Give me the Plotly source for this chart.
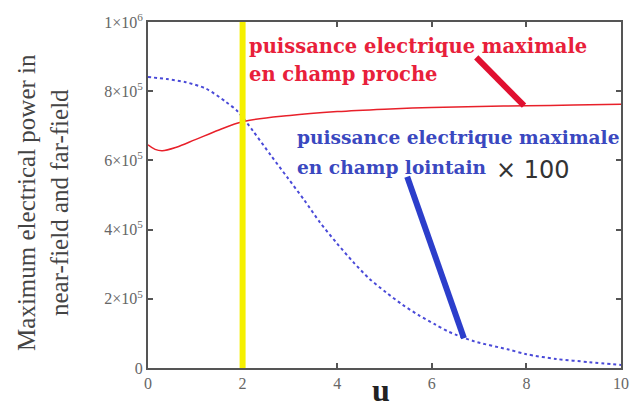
import plotly.graph_objects as go

# near-field maximal power (red)
near_u = [0, 0.15, 0.3, 0.6, 1.0, 1.5, 2.0, 3.0, 4.0, 5.0, 6.0, 7.0, 8.0, 9.0, 10.0]
near_p = [645e3, 632e3, 628e3, 638e3, 660e3, 688e3, 712e3, 730e3, 741e3, 748e3, 753e3, 756e3, 758e3, 760e3, 762e3]

# far-field maximal power x100 (blue dotted)
far_u = [0, 0.4, 0.8, 1.23, 1.64, 1.9, 2.22, 2.6, 2.95, 3.3, 3.64, 3.99, 4.34, 4.68, 5.03, 5.38,
         5.72, 6.07, 6.34, 6.49, 6.9, 7.6, 8.0, 8.63, 9.33, 10.0]
far_p = [841e3, 835e3, 826e3, 807e3, 770e3, 741e3, 685e3, 614e3, 550e3, 486e3, 420e3, 361e3, 306e3,
         258e3, 219e3, 183e3, 153e3, 126e3, 106e3, 97e3, 77e3, 54e3, 40e3, 26e3, 17e3, 9e3]

x_ticks = [0, 2, 4, 6, 8, 10]
y_ticks = [0, 2e5, 4e5, 6e5, 8e5, 1e6]
y_tick_text = ["0", "2×10<sup>5</sup>", "4×10<sup>5</sup>", "6×10<sup>5</sup>", "8×10<sup>5</sup>", "1×10<sup>6</sup>"]

marker_u = 2

fig = go.Figure()
fig.add_trace(go.Scatter(x=far_u, y=far_p, mode="lines", line=dict(color="#4a4ad8", width=2, dash="dot", shape="spline", smoothing=0.8),
                         showlegend=False))
fig.add_trace(go.Scatter(x=near_u, y=near_p, mode="lines", line=dict(color="#e8202a", width=1.5, shape="spline"),
                         showlegend=False))

fig.add_shape(type="line", x0=marker_u, x1=marker_u, y0=0, y1=1, yref="paper", xref="x",
              line=dict(color="#f5f000", width=6))

# annotation pointer lines
fig.add_shape(type="line", xref="x", yref="y", x0=6.94, y0=898e3, x1=7.95, y1=758e3,
              line=dict(color="#e01030", width=6))
fig.add_shape(type="line", xref="x", yref="y", x0=5.48, y0=553e3, x1=6.68, y1=86e3,
              line=dict(color="#2c3ecb", width=6))

ann_font_r = dict(family="DejaVu Serif", size=19.5, color="#e8203a")
ann_font_b = dict(family="DejaVu Serif", size=18.6, color="#3a48c0")
fig.add_annotation(x=2.1, y=929e3, xref="x", yref="y", text="<b>puissance electrique maximale</b>",
                   showarrow=False, xanchor="left", yanchor="middle", font=ann_font_r)
fig.add_annotation(x=2.1, y=849e3, xref="x", yref="y", text="<b>en champ proche</b>",
                   showarrow=False, xanchor="left", yanchor="middle", font=ann_font_r)
fig.add_annotation(x=3.1, y=665e3, xref="x", yref="y", text="<b>puissance electrique maximale</b>",
                   showarrow=False, xanchor="left", yanchor="middle", font=ann_font_b)
fig.add_annotation(x=3.1, y=580e3, xref="x", yref="y", text="<b>en champ lointain</b>",
                   showarrow=False, xanchor="left", yanchor="middle", font=ann_font_b)
fig.add_annotation(x=7.32, y=572e3, xref="x", yref="y", text="× 100",
                   showarrow=False, xanchor="left", yanchor="middle",
                   font=dict(family="DejaVu Sans", size=24, color="#333333"))

axis_common = dict(showgrid=False, zeroline=False, showline=True, linecolor="#555555", linewidth=2,
                   mirror="ticks", ticks="inside", ticklen=5, tickcolor="#555555", tickwidth=1.5,
                   tickfont=dict(family="Liberation Serif", size=16, color="#666666"))

fig.update_xaxes(range=[0, 10], tickvals=x_ticks, ticktext=[str(v) for v in x_ticks], **axis_common)
fig.update_yaxes(range=[0, 1e6], tickvals=y_ticks, ticktext=y_tick_text, **axis_common)

fig.add_annotation(x=-0.222, y=0.48, xref="paper", yref="paper", xanchor="center", yanchor="middle",
                   text="Maximum electrical power in<br>near-field and far-field", textangle=-90,
                   showarrow=False, font=dict(family="Liberation Serif", size=25, color="#444444"))
fig.add_annotation(x=0.493, y=-0.005, xref="paper", yref="paper", xanchor="center", yanchor="top",
                   text="<b>u</b>", showarrow=False,
                   font=dict(family="Liberation Serif", size=32, color="#222222"))

fig.update_layout(width=638, height=401, margin=dict(l=148, r=9, t=22, b=27),
                  plot_bgcolor="white", paper_bgcolor="white")

fig.write_html("out.html")
